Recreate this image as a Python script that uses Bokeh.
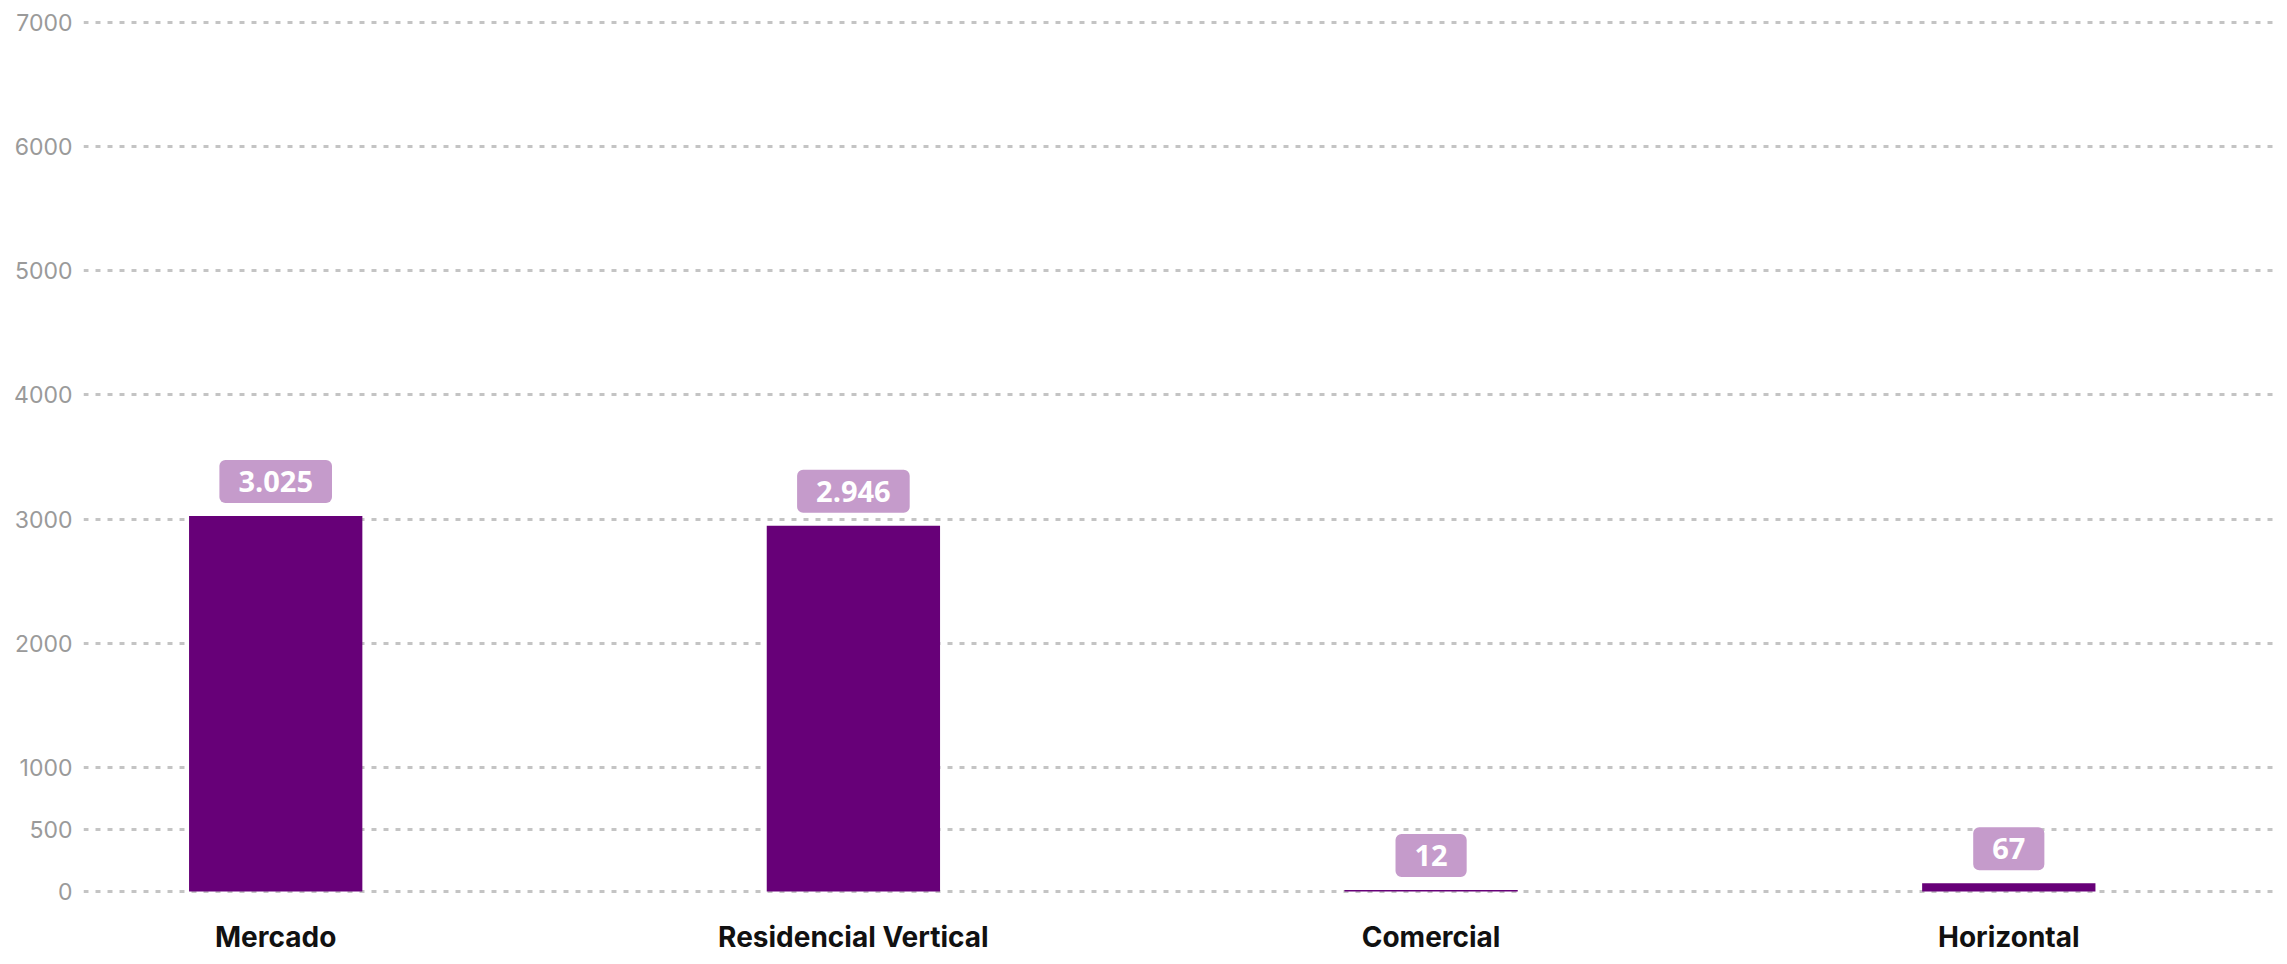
from bokeh.plotting import figure
from bokeh.models import Range1d, FixedTicker, ColumnDataSource
from bokeh.core.properties import value
from bokeh.embed import file_html
from bokeh.resources import INLINE

categories = ["Mercado", "Residencial Vertical", "Comercial", "Horizontal"]
values = [3025, 2946, 12, 67]
y_ticks = [0, 500, 1000, 2000, 3000, 4000, 5000, 6000, 7000]

positions = list(range(len(categories)))
labels = [f"{v:,}".replace(",", ".") for v in values]

src = ColumnDataSource(dict(x=positions, top=values, label=labels))

p = figure(width=2279, height=956, output_backend="svg", toolbar_location=None,
           x_range=Range1d(-0.3327, 3.4686), y_range=Range1d(-16, 7096.5),
           min_border_left=83, min_border_right=0, min_border_top=10,
           min_border_bottom=62)
p.outline_line_color = None
p.background_fill_color = "white"
p.border_fill_color = "white"

p.xgrid.grid_line_color = None
p.yaxis.ticker = FixedTicker(ticks=y_ticks)
p.ygrid.ticker = FixedTicker(ticks=y_ticks)
p.ygrid.grid_line_color = "#c4c4c4"
p.ygrid.grid_line_width = 3
p.ygrid.grid_line_dash = "5 7"

p.yaxis.axis_line_color = None
p.yaxis.major_tick_line_color = None
p.yaxis.minor_tick_line_color = None
p.yaxis.major_tick_out = 0
p.yaxis.major_label_standoff = 11
p.yaxis.major_label_text_font = "Inter"
p.yaxis.major_label_text_font_size = "23px"
p.yaxis.major_label_text_color = "#9a9a9a"

p.xaxis.ticker = FixedTicker(ticks=positions)
p.xaxis.major_label_overrides = {i: c for i, c in zip(positions, categories)}
p.xaxis.axis_line_color = None
p.xaxis.major_tick_line_color = None
p.xaxis.minor_tick_line_color = None
p.xaxis.major_tick_out = 0
p.xaxis.major_label_standoff = 26
p.xaxis.major_label_text_font = "Inter"
p.xaxis.major_label_text_font_style = "bold"
p.xaxis.major_label_text_font_size = "28px"
p.xaxis.major_label_text_color = "#111111"

p.vbar(x="x", top="top", bottom=0, width=0.30, source=src,
       fill_color="#670078", line_color=None)

p.text(x="x", y="top", text="label", source=src, anchor="bottom_center",
       y_offset=-13, text_color="white", text_font=value("Open Sans"),
       text_font_style="bold", text_font_size="29px",
       background_fill_color="#c59bcb", border_radius=6, padding=(19, 11))

open("out.html", "w").write(file_html(p, INLINE))
